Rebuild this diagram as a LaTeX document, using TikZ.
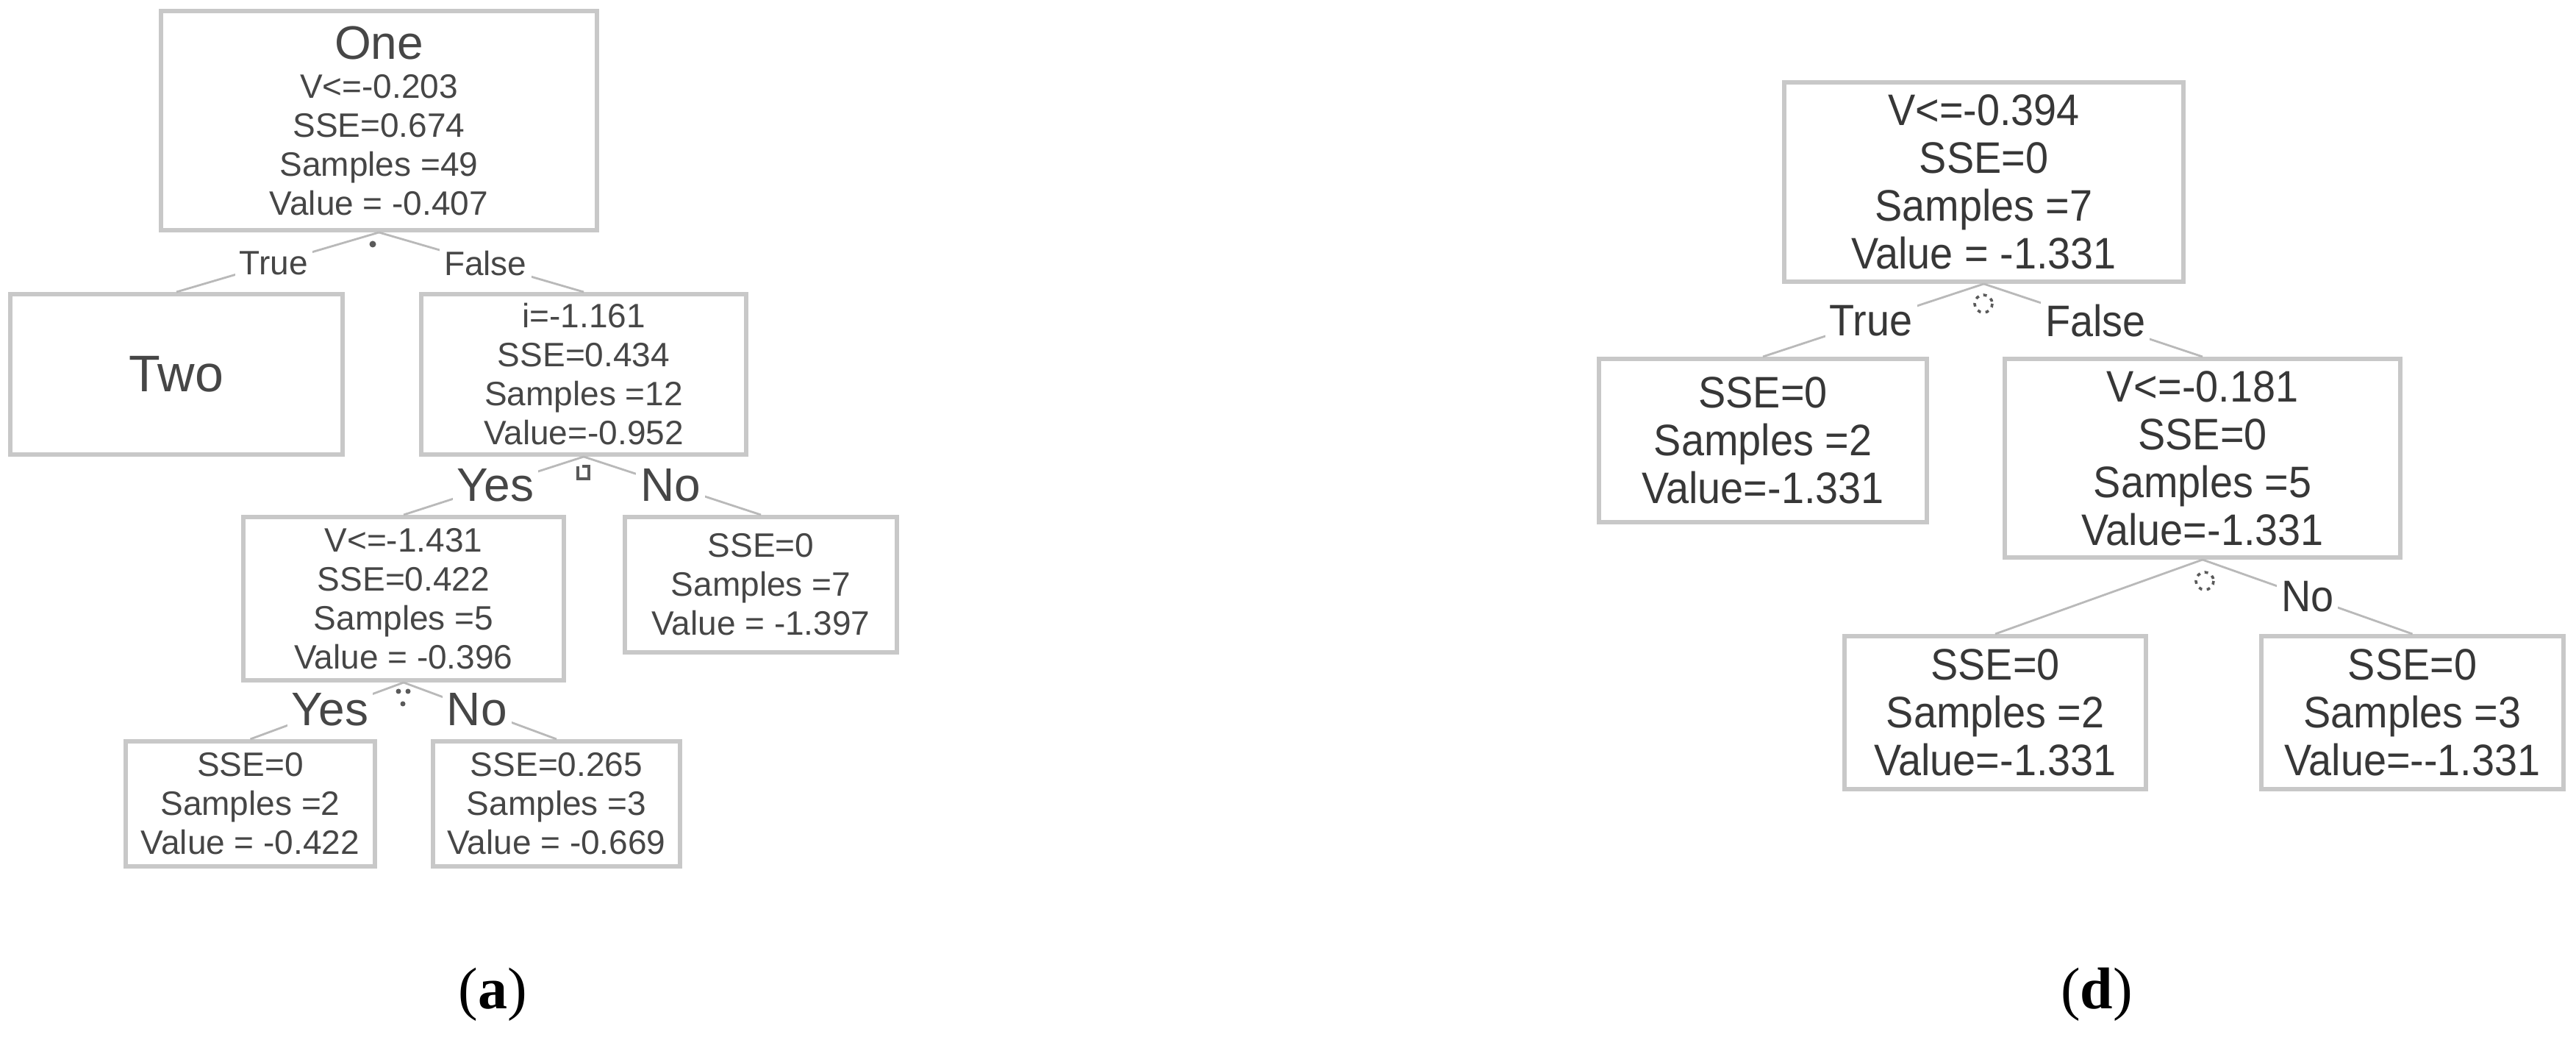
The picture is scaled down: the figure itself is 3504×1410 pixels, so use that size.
\documentclass[tikz,border=0pt]{standalone}
\usepackage{fontspec}
\setmainfont{Liberation Serif}
\newfontfamily\arial{Liberation Sans}
\newfontfamily\arialn[FakeStretch=0.93]{Liberation Sans}
\definecolor{boxgray}{RGB}{200,200,200}
\definecolor{edgegray}{RGB}{185,185,185}
\definecolor{txtL}{RGB}{70,70,70}
\definecolor{txtR}{RGB}{55,55,55}
\definecolor{markgray}{RGB}{90,90,90}
\begin{document}
\begin{tikzpicture}[x=0.25pt,y=-0.25pt,
  box/.style n args={2}{draw=boxgray,line width=1.5pt,inner sep=0pt,align=center,
    minimum width=#1*0.25pt,minimum height=#2*0.25pt},
  lfont/.style={font=\arial\fontsize{11.5}{13.25}\selectfont,text=txtL},
  rfont/.style={font=\arialn\fontsize{15}{16.25}\selectfont,text=txtR},
  bigfont/.style={font=\arial\fontsize{16}{18}\selectfont,text=txtL},
  edge/.style={draw=edgegray,line width=0.7pt},
  lbl/.style={fill=white,inner sep=1.5pt},
  captext/.style={font=\fontsize{20}{24}\selectfont,text=black}
]
\useasboundingbox[fill=white] (0,0) rectangle (3504,1410);

% ---------------- tree (a) ----------------
\node[box={593}{298},lfont] (a1) at (515.5,164)
  {{\fontsize{16}{13.25}\selectfont One}\\V<=-0.203\\SSE=0.674\\Samples =49\\Value = -0.407};
\node[box={452}{218},font=\arial\fontsize{17.5}{20}\selectfont,text=txtL] (a2) at (240,509) {Two};
\node[box={442}{218},lfont] (a3) at (794,509)
  {i=-1.161\\SSE=0.434\\Samples =12\\Value=-0.952};
\node[box={436}{222},lfont] (a4) at (549,814)
  {V<=-1.431\\SSE=0.422\\Samples =5\\Value = -0.396};
\node[box={370}{184},lfont] (a5) at (1035,795)
  {SSE=0\\Samples =7\\Value = -1.397};
\node[box={339}{170},lfont] (a6) at (340.5,1093)
  {SSE=0\\Samples =2\\Value = -0.422};
\node[box={336}{170},lfont] (a7) at (757,1093)
  {SSE=0.265\\Samples =3\\Value = -0.669};

\draw[edge] (a1.south) -- node[lbl,lfont,pos=0.52] (at1) {True} (a2.north);
\draw[edge] (a1.south) -- node[lbl,lfont,pos=0.52] (af1) {False} (a3.north);
\draw[edge] (a3.south) -- node[lbl,bigfont,pos=0.49] (ay1) {Yes} (a4.north);
\draw[edge] (a3.south) -- node[lbl,bigfont,pos=0.49] (an1) {No} (a5.north);
\draw[edge] (a4.south) -- node[lbl,bigfont,pos=0.48] (ay2) {Yes} (a6.north);
\draw[edge] (a4.south) -- node[lbl,bigfont,pos=0.48] (an2) {No} (a7.north);

% small marks
\fill[markgray] (507,332) circle (4.5);
\draw[markgray,line width=1pt] (786,634) -- (786,651) -- (801,651) -- (801,634) -- (792,634);
\fill[markgray] (542,940) circle (3.5);
\fill[markgray] (555,940) circle (3.5);
\fill[markgray] (548,957) circle (3.5);

% ---------------- tree (d) ----------------
\node[box={543}{271},rfont] (d1) at (2698.5,247.5)
  {V<=-0.394\\SSE=0\\Samples =7\\Value = -1.331};
\node[box={446}{222},rfont] (d2) at (2398,599)
  {SSE=0\\Samples =2\\Value=-1.331};
\node[box={538}{270},rfont] (d3) at (2996,623)
  {V<=-0.181\\SSE=0\\Samples =5\\Value=-1.331};
\node[box={410}{208},rfont] (d4) at (2714,969)
  {SSE=0\\Samples =2\\Value=-1.331};
\node[box={411}{208},rfont] (d5) at (3281.5,969)
  {SSE=0\\Samples =3\\Value=-{}-1.331};

\draw[edge] (d1.south) -- node[lbl,rfont,pos=0.51] (dt1) {True} (d2.north);
\draw[edge] (d1.south) -- node[lbl,rfont,pos=0.51] (df1) {False} (d3.north);
\draw[edge] (d3.south) -- (d4.north);
\draw[edge] (d3.south) -- node[lbl,rfont,pos=0.5] (dn1) {No} (d5.north);

\draw[markgray,line width=0.9pt,dash pattern=on 1.2pt off 1.6pt] (2698,413) circle (12);
\draw[markgray,line width=0.9pt,dash pattern=on 1.2pt off 1.6pt] (2999,790) circle (12);

% captions
\node[captext] (capa) at (670,1352) {(\textbf{a})};
\node[captext] (capd) at (2852,1352) {(\textbf{d})};
\end{tikzpicture}
\end{document}
